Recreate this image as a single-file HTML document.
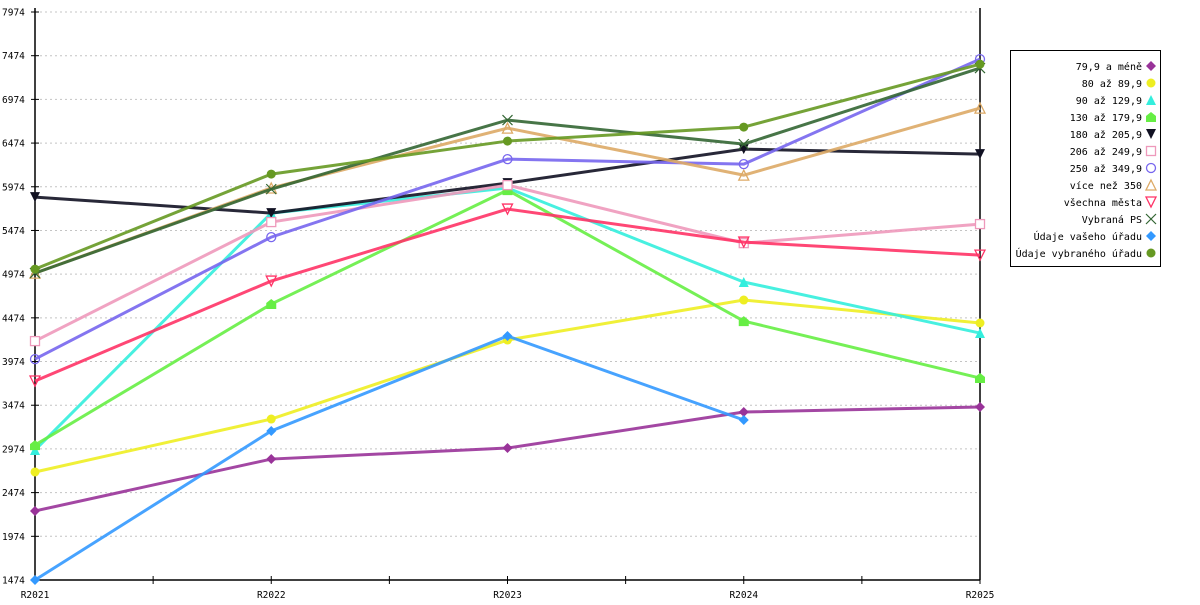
<!DOCTYPE html>
<html><head><meta charset="utf-8"><style>
body{margin:0;background:#fff;width:1200px;height:600px;overflow:hidden}
svg{font-family:"DejaVu Sans Mono","Liberation Mono",monospace}
</style></head><body>
<svg id="chart" width="1200" height="600" xmlns="http://www.w3.org/2000/svg"></svg>
<script>
const categories=["R2021","R2022","R2023","R2024","R2025"];
const yTicks=[1474,1974,2474,2974,3474,3974,4474,4974,5474,5974,6474,6974,7474,7974];
const seriesNames=["79,9 a méně","80 až 89,9","90 až 129,9","130 až 179,9","180 až 205,9","206 až 249,9","250 až 349,9","více než 350","všechna města","Vybraná PS","Údaje vašeho úřadu","Údaje vybraného úřadu"];
const s0=[2264,2858,2984,3396,3454];
const s1=[2710,3316,4220,4678,4415];
const s2=[2961,5673,5960,4884,4300];
const s3=[3018,4632,5936,4437,3785];
const s4=[5856,5673,6016,6405,6348];
const s5=[4208,5570,5993,5329,5547];
const s6=[4002,5398,6290,6233,7435];
const s7=[4986,5960,6645,6107,6874];
const s8=[3751,4895,5719,5341,5192];
const s9=[4986,5947,6737,6462,7332];
const s10=[1474,3179,4266,3305,null];
const s11=[5032,6119,6497,6657,7377];
const seriesValues=[s0,s1,s2,s3,s4,s5,s6,s7,s8,s9,s10,s11];
const colors=["#993399","#eeee22","#33eedd","#66ee44","#111122","#ee99bb","#7766ee","#ddaa66","#ff3366","#336633","#3399ff","#669922"];
const markers=["diamond","circle","tri","house","tridown","square","ocircle","otri","otridown","x","diamond","circle"];
const svg=document.getElementById('chart');const NS="http://www.w3.org/2000/svg";
const X0=35,X1=980,Y0=580,Y1=12;
function xs(i){return X0+i*(X1-X0)/(categories.length-1);}
function ys(v){return Y0-(v-1474)/(7974-1474)*(Y0-Y1);}
function mk(t,a,p){const e=document.createElementNS(NS,t);for(const k in a)e.setAttribute(k,a[k]);(p||svg).appendChild(e);return e;}
const grid=mk('g',{});
yTicks.forEach(v=>{const y=ys(v);
 if(v>1474){const l=mk('line',{x1:40,x2:X1,y1:y,y2:y,stroke:'#c4c4c4','stroke-dasharray':'2,3'},grid);}
 const t=mk('line',{x1:X0-4,x2:X0+4,y1:y,y2:y,stroke:'#000'});
 const tx=mk('text',{x:2,y:y+3.5,'font-size':'9.5',fill:'#000'});tx.textContent=v;
});
let ax=mk('line',{x1:X0,x2:X0,y1:8,y2:Y0,stroke:'#000','stroke-width':1.5});
ax=mk('line',{x1:X1,x2:X1,y1:8,y2:Y0,stroke:'#000','stroke-width':1.5});
ax=mk('line',{x1:X0,x2:X1,y1:Y0,y2:Y0,stroke:'#000','stroke-width':1.5});
for(let i=0;i<categories.length*2-1;i++){const x=X0+i*(X1-X0)/((categories.length-1)*2);
 const t=mk('line',{x1:x,x2:x,y1:Y0-4,y2:Y0+4,stroke:'#000'});}
categories.forEach((c,i)=>{const t=mk('text',{x:xs(i),y:598,'font-size':'9.5','text-anchor':'middle'});t.textContent=c;});
function marker(type,x,y,c,p){let e;const s=5;
 switch(type){
 case 'diamond':e=mk('polygon',{points:`${x},${y-s} ${x+s},${y} ${x},${y+s} ${x-s},${y}`,fill:c},p);break;
 case 'circle':e=mk('circle',{cx:x,cy:y,r:4.5,fill:c},p);break;
 case 'tri':e=mk('polygon',{points:`${x},${y-s} ${x+s},${y+s} ${x-s},${y+s}`,fill:c},p);break;
 case 'house':e=mk('polygon',{points:`${x},${y-s} ${x+s},${y-1} ${x+s},${y+s} ${x-s},${y+s} ${x-s},${y-1}`,fill:c},p);break;
 case 'tridown':e=mk('polygon',{points:`${x-s},${y-s} ${x+s},${y-s} ${x},${y+s}`,fill:c},p);break;
 case 'square':e=mk('rect',{x:x-4.5,y:y-4.5,width:9,height:9,fill:'#fff',stroke:c,'stroke-width':1.3},p);break;
 case 'ocircle':e=mk('circle',{cx:x,cy:y,r:4.5,fill:'none',stroke:c,'stroke-width':1.3},p);break;
 case 'otri':e=mk('polygon',{points:`${x},${y-s} ${x+s},${y+s} ${x-s},${y+s}`,fill:'none',stroke:c,'stroke-width':1.3},p);break;
 case 'otridown':e=mk('polygon',{points:`${x-s},${y-s} ${x+s},${y-s} ${x},${y+s}`,fill:'none',stroke:c,'stroke-width':1.3},p);break;
 case 'x':e=mk('path',{d:`M${x-s},${y-s}L${x+s},${y+s}M${x+s},${y-s}L${x-s},${y+s}`,stroke:c,'stroke-width':1.2},p);break;}
 return e;}
seriesValues.forEach((vals,si)=>{const g=mk('g',{});
 let d='';vals.forEach((v,i)=>{if(v==null)return;d+=(d?'L':'M')+xs(i)+','+ys(v);});
 const p=mk('path',{d:d,fill:'none',stroke:colors[si],'stroke-width':3,opacity:0.9},g);
 vals.forEach((v,i)=>{if(v==null)return;const m=marker(markers[si],xs(i),ys(v),colors[si],g);});
});
const lg=mk('g',{});
const box=mk('rect',{x:1010.5,y:50.5,width:150,height:216,fill:'#fff',stroke:'#000'},lg);
seriesNames.forEach((n,i)=>{const y=66+i*17;const e=mk('g',{},lg);
 const t=mk('text',{x:1142,y:y+4,'font-size':'10','text-anchor':'end'},e);t.textContent=n;
 marker(markers[i],1151,y,colors[i],e);});
</script>
</body></html>
